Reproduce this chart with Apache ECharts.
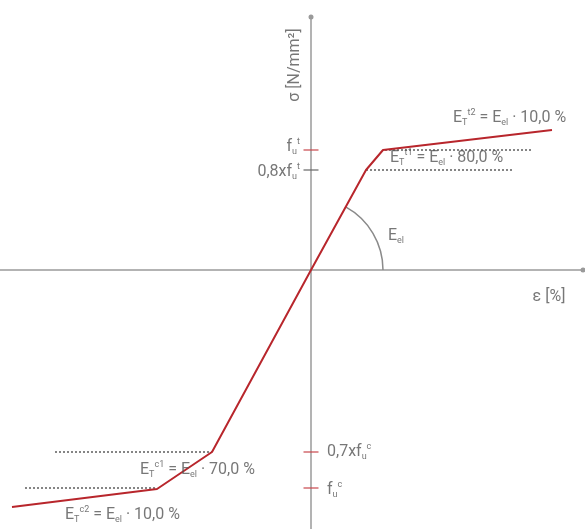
<!DOCTYPE html>
<html>
<head>
<meta charset="utf-8">
<script src="https://cdn.jsdelivr.net/npm/echarts@6/dist/echarts.min.js"></script>
<style>
  html, body { margin: 0; padding: 0; background: #fff; }
  #chart { width: 585px; height: 529px; }
</style>
</head>
<body>
<div id="chart"></div>
<script>
// stress-strain curve (schematic units)
var curveStrain = [-29.9, -15.4, -9.9, 0, 5.5, 7.2, 24.1];
var curveStress = [-23.7, -21.9, -18.2, 0, 10.0, 12.0, 14.0];

// levels marked on the stress axis
var levelNames = ['f_u^t', '0,8xf_u^t', '0,7xf_u^c', 'f_u^c'];
var levelStress = [12.0, 10.0, -18.2, -21.8];

// dotted helper lines: [from, to] strain at each stress level
var dottedFrom = [7.4, 5.5, -25.6, -28.6];
var dottedTo = [22.2, 20.2, -9.9, -15.4];

var textGrey = '#555';
var red = '#b8262c';

var labels = [
  { pos: [-1.6, 20.5], text: 'σ [N/mm²]', align: 'center', rotate: 90 },
  { pos: [23.8, -2.7], text: 'ε [%]', align: 'center' },
  { pos: [7.7, 3.4], text: 'E{sub|el}', align: 'left' },
  { pos: [-1.1, 12.3], text: 'f{sub|u}{sup|t}', align: 'right' },
  { pos: [-1.1, 9.8], text: '0,8xf{sub|u}{sup|t}', align: 'right' },
  { pos: [14.2, 15.2], text: 'E{sub|T}{sup|t2} = E{sub|el} · 10,0 %', align: 'left' },
  { pos: [7.9, 11.2], text: 'E{sub|T}{sup|t1} = E{sub|el} · 80,0 %', align: 'left' },
  { pos: [1.6, -18.2], text: '0,7xf{sub|u}{sup|c}', align: 'left' },
  { pos: [1.6, -22.0], text: 'f{sub|u}{sup|c}', align: 'left' },
  { pos: [-17.1, -20.0], text: 'E{sub|T}{sup|c1} = E{sub|el} · 70,0 %', align: 'left' },
  { pos: [-24.6, -24.5], text: 'E{sub|T}{sup|c2} = E{sub|el} · 10,0 %', align: 'left' }
];

var chart = echarts.init(document.getElementById('chart'));

var curveData = curveStrain.map(function (x, i) { return [x, curveStress[i]]; });

var dottedSeries = levelStress.map(function (y, i) {
  return {
    type: 'line',
    silent: true,
    symbol: 'none',
    data: [[dottedFrom[i], y], [dottedTo[i], y]],
    lineStyle: { color: '#444', width: 1.3, type: [2, 2] },
    z: 2
  };
});

var rich = {
  sub: { fontSize: 9, color: textGrey, verticalAlign: 'bottom', padding: [10, 0, 0, 0] },
  sup: { fontSize: 9, color: textGrey, verticalAlign: 'top', padding: [0, 0, 10, 0] }
};

var option = {
  animation: false,
  grid: { left: 0, right: 2, top: 17, bottom: 0 },
  xAxis: {
    type: 'value',
    min: -31.1,
    max: 27.2,
    axisLine: { lineStyle: { color: '#9a9a9a', width: 1.5 }, symbol: ['none', 'circle'], symbolSize: [5, 5] },
    axisTick: { show: false },
    axisLabel: { show: false },
    splitLine: { show: false }
  },
  yAxis: {
    type: 'value',
    min: -25.9,
    max: 25.3,
    axisLine: { lineStyle: { color: '#9a9a9a', width: 1.5 }, symbol: ['none', 'circle'], symbolSize: [5, 5] },
    axisTick: { show: false },
    axisLabel: { show: false },
    splitLine: { show: false }
  },
  series: [
    {
      type: 'line',
      symbol: 'none',
      data: curveData,
      lineStyle: { color: red, width: 2 },
      z: 5
    },
    {
      // stress level ticks on the axis
      type: 'scatter',
      symbol: 'rect',
      symbolSize: [15, 1.5],
      data: levelStress.map(function (y, i) {
        return { value: [0, y], itemStyle: { color: i === 1 ? '#666' : '#c9474b' } };
      }),
      z: 4
    },
    {
      // angle arc for E_el
      type: 'custom',
      silent: true,
      data: [[0, 0]],
      renderItem: function (params, api) {
        var c = api.coord([0, 0]);
        var p = api.coord([curveStrain[4], curveStress[4]]);
        var ang = Math.atan2(p[1] - c[1], p[0] - c[0]);
        return {
          type: 'arc',
          shape: { cx: c[0], cy: c[1], r: 72, startAngle: ang, endAngle: 0, clockwise: true },
          style: { stroke: '#8a8a8a', lineWidth: 1.5, fill: null }
        };
      },
      z: 3
    },
    {
      type: 'scatter',
      symbolSize: 0,
      silent: true,
      data: labels.map(function (l) {
        return {
          value: l.pos,
          label: {
            show: true,
            position: 'inside',
            align: l.align,
            verticalAlign: 'middle',
            rotate: l.rotate || 0,
            formatter: l.text,
            color: textGrey,
            fontSize: 16,
            fontFamily: 'Roboto',
            rich: rich
          }
        };
      }),
      z: 6
    }
  ].concat(dottedSeries)
};

chart.setOption(option);
</script>
</body>
</html>
